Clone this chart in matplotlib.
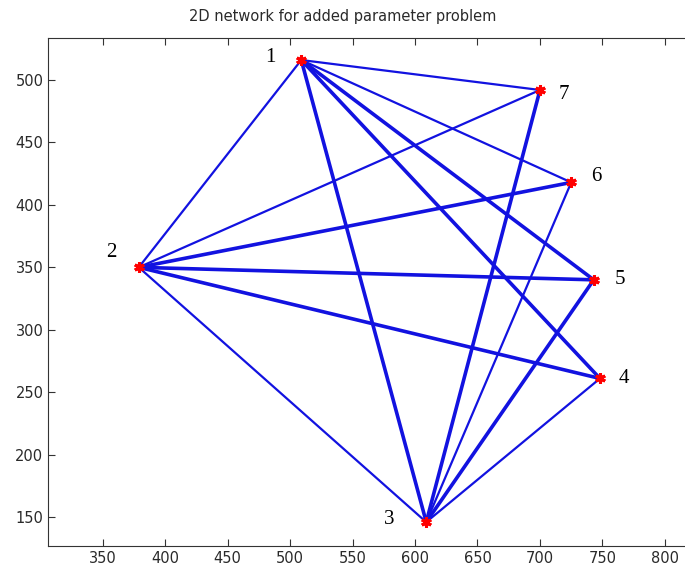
import matplotlib
matplotlib.use("Agg")
import matplotlib.pyplot as plt

# node coordinates
node_ids = ["1", "2", "3", "4", "5", "6", "7"]
node_x = [509, 379, 609, 748, 743, 725, 700]
node_y = [516, 350, 146, 261, 340, 418, 492]

# edges (node index pairs) and whether they look heavy
edges = [(0, 1), (0, 2), (0, 3), (0, 4), (0, 5), (0, 6),
         (1, 2), (1, 3), (1, 4), (1, 5), (1, 6),
         (2, 3), (2, 4), (2, 5), (2, 6)]
heavy = [False, True, True, True, False, False,
         False, True, True, True, False,
         False, True, False, True]

# label offsets in points
label_dx = [-22, -20, -27, 17, 19, 18, 17]
label_dy = [2, 11, 2, 0, 0, 4, -3]

xticks = list(range(350, 801, 50))
yticks = list(range(150, 501, 50))

fig = plt.figure(figsize=(6.85, 5.73), dpi=100)
ax = fig.add_axes([0.0705, 0.047, 0.955, 0.8866])

for (a, b), h in zip(edges, heavy):
    ax.plot([node_x[a], node_x[b]], [node_y[a], node_y[b]],
            color="#1212e0", lw=2.6 if h else 1.6, solid_capstyle="round", zorder=2)

ax.plot(node_x, node_y, linestyle="none", marker=(6, 2, 0), markersize=7.5,
        mew=2.2, color="red", zorder=3)

for i, name in enumerate(node_ids):
    ax.annotate(name, (node_x[i], node_y[i]), xytext=(label_dx[i], label_dy[i]),
                textcoords="offset points", ha="center", va="center",
                fontsize=15, family="Liberation Serif", color="black")

ax.set_xlim(306.6, 830)
ax.set_ylim(126.8, 533.6)
ax.set_xticks(xticks)
ax.set_yticks(yticks)
ax.tick_params(direction="in", top=True, right=False, length=5,
               labelsize=10.5, labelcolor="#2a2a2a", color="#333333")
for s in ax.spines.values():
    s.set_color("#333333")

fig.text(0.5, 0.972, "2D network for added parameter problem",
         ha="center", va="center", fontsize=10.5, color="#2a2a2a")

fig.savefig("out.png", dpi=100)
